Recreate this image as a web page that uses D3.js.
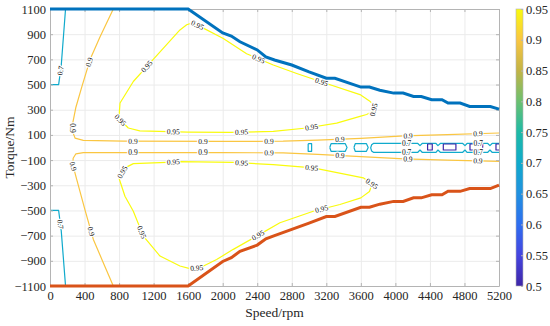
<!DOCTYPE html>
<html>
<head>
<meta charset="utf-8">
<script src="https://cdn.jsdelivr.net/npm/d3@7/dist/d3.min.js"></script>
<style>
body{margin:0;background:#fff;}
text{font-family:"Liberation Serif","Times New Roman",serif;}
</style>
</head>
<body>
<div id="canvas"></div>
<script>
// tick labels
var speedTicks = [0,400,800,1200,1600,2000,2400,2800,3200,3600,4000,4400,4800,5200];
var torqueTicks = [-1100,-900,-700,-500,-300,-100,100,300,500,700,900,1100];
var effTicks = [0.5,0.55,0.6,0.65,0.7,0.75,0.8,0.85,0.9,0.95];
// colour map (parula-like), one colour per colorbar tick
var effColors = ["#3e26a8","#4545e0","#2e6ef0","#2191e0","#10aacc","#1fbaa6","#6cc070","#c3b446","#fac642","#f9fb0e"];

// max / min torque envelope
var envSpeed = [0,1600,2000,2100,2200,2400,2500,2600,2800,3000,3200,3300,3600,3700,3820,3980,4090,4210,4300,4420,4540,4610,4750,4860,5100,5200];
var envTmax  = [1100,1100,910,885,840,775,720,695,655,600,550,550,480,480,455,432,432,405,405,380,380,353,353,326,326,305];
var envTmin  = [-1100,-1100,-905,-875,-825,-775,-725,-700,-650,-600,-548,-548,-475,-475,-450,-428,-428,-400,-400,-375,-375,-348,-348,-326,-326,-298];

// contour lines [speed, torque]
var eff70TopLeft = [[0,500],[100,500],[130,650],[180,1100]];
var eff70BotLeft = [[0,-500],[100,-500],[130,-660],[180,-1100]];
var eff70Band = [[5200,32],[5120,32],[5095,15],[5070,32],[4830,32],[4806,15],[4780,32],[4520,32],[4493,15],[4470,32],[4310,32],[4285,15],[4260,32],[3745,32],[3725,22],[3714,-3],
  [3725,-28],[3745,-38],[4260,-38],[4285,-20],[4310,-38],[4470,-38],[4493,-20],[4520,-38],[4780,-38],[4806,-20],[4830,-38],[5070,-38],[5095,-20],[5120,-38],[5200,-38]];
var eff70Small = [[2990,30],[3030,30],[3030,-30],[2990,-30],[2990,30]];
var eff70Hex1 = [[3240,0],[3255,30],[3420,30],[3440,0],[3420,-30],[3255,-30],[3240,0]];
var eff70Hex2 = [[3520,0],[3535,30],[3665,30],[3685,0],[3665,-30],[3535,-30],[3520,0]];
var eff50Box1 = [[4373,28],[4427,28],[4427,-20],[4373,-20],[4373,28]];
var eff50Box2 = [[4555,28],[4701,28],[4701,-20],[4555,-20],[4555,28]];
var eff50Box3 = [[4864,28],[5011,28],[5011,-20],[4864,-20],[4864,28]];
var eff50Box4 = [[5200,28],[5165,28],[5165,-20],[5200,-20]];
var eff90Top = [[733,1100],[580,880],[465,700],[370,485],[300,320],[265,200],[265,120],[290,75],[386,57],[850,50],[2000,48],[2700,50],[3100,58],[3600,72],[4100,92],[4600,103],[5200,115]];
var eff90Bot = [[733,-1100],[617,-915],[502,-730],[405,-495],[310,-255],[265,-140],[268,-85],[300,-50],[386,-40],[850,-40],[2000,-40],[2700,-43],[3100,-55],[3600,-72],[4100,-90],[4600,-100],[5200,-110]];
var eff95Top = [[800,250],[811,353],[965,524],[1120,643],[1505,934],[1583,975],[1650,990],[1737,962],[2007,865],[2277,745],[2586,655],[2857,588],[3165,516],[3590,420],[3700,370],[3760,330],[3745,290],[3667,262],[3590,247],[3320,194],[2973,155],[2586,128],[2084,120],[1600,122],[1040,132],[907,155],[811,220],[800,250]];
var eff95Bot = [[800,-245],[811,-268],[868,-387],[965,-506],[1081,-704],[1274,-862],[1505,-941],[1620,-962],[1737,-955],[1930,-889],[2123,-809],[2393,-704],[2663,-598],[3049,-506],[3358,-453],[3600,-400],[3700,-350],[3730,-290],[3628,-241],[3049,-162],[2586,-136],[2123,-118],[1505,-112],[1351,-118],[965,-128],[868,-162],[811,-229],[800,-245]];

// inline labels [speed, torque]
var lab70 = [[127,610],[127,-610]];
var lab70Band = [[4130,32],[4130,-38],[4960,32],[4960,-38]];
var lab90Top = [[494,670],[265,155],[961,50],[1772,48],[2536,50],[3358,64],[4146,93],[4956,110]];
var lab90Bot = [[483,-665],[265,-150],[961,-40],[1772,-40],[2536,-42],[3358,-62],[4146,-90],[4956,-106]];
var lab95Top = [[1120,643],[811,215],[1428,122],[2219,120],[3030,160],[3752,300],[1699,960],[2412,700],[3146,521]];
var lab95Bot = [[1138,-651],[849,-200],[1428,-113],[2219,-120],[3030,-160],[3725,-290],[1699,-957],[2412,-700],[3146,-490]];

var W = 550, H = 326;
var m = {t:9, r:51, b:40, l:50};
var w = W - m.l - m.r, h = H - m.t - m.b;

var svg = d3.select('#canvas').append('svg')
    .attr('width', W).attr('height', H);

var x = d3.scaleLinear().domain([0,5200]).range([m.l, m.l + w]);
var y = d3.scaleLinear().domain([-1100,1100]).range([m.t + h, m.t]);
var col = d3.scaleLinear().domain(effTicks).range(effColors);

// grid
svg.append('g').attr('transform','translate(0,'+(m.t+h)+')')
    .call(d3.axisBottom(x).tickValues(speedTicks).tickSize(-h).tickFormat(''))
    .call(function(g){ g.select('.domain').remove(); g.selectAll('line').attr('stroke','#ebebeb'); });
svg.append('g').attr('transform','translate('+m.l+',0)')
    .call(d3.axisLeft(y).tickValues(torqueTicks).tickSize(-w).tickFormat(''))
    .call(function(g){ g.select('.domain').remove(); g.selectAll('line').attr('stroke','#ebebeb'); });

var plot = svg.append('g');
plot.append('clipPath').attr('id','clip').append('rect')
    .attr('x', m.l).attr('y', m.t).attr('width', w).attr('height', h);

var line = d3.line()
    .x(function(d){ return x(d[0]); })
    .y(function(d){ return y(d[1]); });

var contours = [
  {lev:0.7, pts:eff70TopLeft, labs:lab70.slice(0,1)},
  {lev:0.7, pts:eff70BotLeft, labs:lab70.slice(1)},
  {lev:0.7, pts:eff70Band, labs:lab70Band},
  {lev:0.7, pts:eff70Small, labs:[]},
  {lev:0.7, pts:eff70Hex1, labs:[]},
  {lev:0.7, pts:eff70Hex2, labs:[]},
  {lev:0.5, pts:eff50Box1, labs:[]},
  {lev:0.5, pts:eff50Box2, labs:[]},
  {lev:0.5, pts:eff50Box3, labs:[]},
  {lev:0.5, pts:eff50Box4, labs:[]},
  {lev:0.9, pts:eff90Top, labs:lab90Top},
  {lev:0.9, pts:eff90Bot, labs:lab90Bot},
  {lev:0.95, pts:eff95Top, labs:lab95Top},
  {lev:0.95, pts:eff95Bot, labs:lab95Bot}
];

var cg = plot.append('g').attr('clip-path','url(#clip)');
cg.selectAll('.contour')
    .data(contours)
    .enter().append('path')
    .attr('class','contour')
    .attr('d', function(d){ return line(d.pts); })
    .attr('fill','none')
    .attr('stroke', function(d){ return col(d.lev); })
    .attr('stroke-width', 1.2)
    .attr('stroke-linejoin','round');

// place label on nearest segment, rotated along it
function labelPos(pts, s, t){
  var px = x(s), py = y(t), best = null;
  for(var i=0; i<pts.length-1; i++){
    var ax = x(pts[i][0]), ay = y(pts[i][1]), bx = x(pts[i+1][0]), by = y(pts[i+1][1]);
    var dx = bx-ax, dy = by-ay, L = dx*dx+dy*dy;
    var u = L>0 ? Math.max(0, Math.min(1, ((px-ax)*dx+(py-ay)*dy)/L)) : 0;
    var qx = ax+u*dx, qy = ay+u*dy, dd = (qx-px)*(qx-px)+(qy-py)*(qy-py);
    if(!best || dd < best.dd){
      var a = Math.atan2(dy, dx)*180/Math.PI;
      if(a > 90) a -= 180;
      if(a <= -90) a += 180;
      best = {x:qx, y:qy, a:a, dd:dd};
    }
  }
  return best;
}

var labData = [];
contours.forEach(function(c){
  c.labs.forEach(function(l){
    var p = labelPos(c.pts, l[0], l[1]);
    labData.push({x:p.x, y:p.y, a:p.a, txt:String(c.lev)});
  });
});

svg.append('g').selectAll('text')
    .data(labData)
    .enter().append('text')
    .attr('transform', function(d){ return 'translate('+d.x+','+d.y+') rotate('+d.a+')'; })
    .attr('text-anchor','middle')
    .attr('dy','0.33em')
    .attr('font-size','7.5px')
    .attr('fill','#111')
    .attr('stroke','#fff').attr('stroke-width',2.5)
    .attr('paint-order','stroke')
    .text(function(d){ return d.txt; });

// axes frame and inward ticks
function styleAxis(g){
  g.select('.domain').attr('stroke','#b4b4b4');
  g.selectAll('.tick line').attr('stroke','#b4b4b4');
  g.selectAll('text').attr('fill','#262626').attr('font-size','12.5px');
}
svg.append('g').attr('transform','translate(0,'+(m.t+h)+')')
    .call(d3.axisBottom(x).tickValues(speedTicks).tickSizeInner(-3).tickSizeOuter(0).tickPadding(5).tickFormat(d3.format('d')))
    .call(styleAxis);
svg.append('g').attr('transform','translate('+m.l+',0)')
    .call(d3.axisLeft(y).tickValues(torqueTicks).tickSizeInner(-3).tickSizeOuter(0).tickPadding(4).tickFormat(d3.format('d')))
    .call(styleAxis);
svg.append('g').attr('transform','translate(0,'+m.t+')')
    .call(d3.axisTop(x).tickValues(speedTicks).tickSizeInner(-3).tickSizeOuter(0).tickFormat(''))
    .call(styleAxis);
svg.append('g').attr('transform','translate('+(m.l+w)+',0)')
    .call(d3.axisRight(y).tickValues(torqueTicks).tickSizeInner(-3).tickSizeOuter(0).tickFormat(''))
    .call(styleAxis);

// envelope lines, on top of the frame
var env = envSpeed.map(function(s,i){ return [s, envTmax[i], envTmin[i]]; });
svg.append('path')
    .attr('d', line(env.map(function(d){ return [d[0], d[1]]; })))
    .attr('fill','none').attr('stroke','#0072bd').attr('stroke-width',3);
svg.append('path')
    .attr('d', line(env.map(function(d){ return [d[0], d[2]]; })))
    .attr('fill','none').attr('stroke','#d95319').attr('stroke-width',3);

// axis titles
svg.append('text')
    .attr('x', m.l + w/2).attr('y', 317)
    .attr('text-anchor','middle').attr('font-size','13.5px').attr('fill','#262626')
    .text('Speed/rpm');
svg.append('text')
    .attr('transform','translate(14,'+(m.t + h/2)+') rotate(-90)')
    .attr('text-anchor','middle').attr('font-size','13.5px').attr('fill','#262626')
    .text('Torque/Nm');

// colorbar
var cbX = 516, cbW = 7;
var cbY = d3.scaleLinear().domain([0.5,0.95]).range([m.t + h, m.t]);
var grad = svg.append('defs').append('linearGradient')
    .attr('id','cbgrad').attr('x1','0').attr('y1','1').attr('x2','0').attr('y2','0');
grad.selectAll('stop')
    .data(effTicks)
    .enter().append('stop')
    .attr('offset', function(d){ return (d-0.5)/0.45; })
    .attr('stop-color', function(d){ return col(d); });
svg.append('rect')
    .attr('x', cbX).attr('y', m.t).attr('width', cbW).attr('height', h)
    .attr('fill','url(#cbgrad)').attr('stroke','#b4b4b4').attr('stroke-width',0.6);
svg.append('g').attr('transform','translate('+(cbX+cbW)+',0)')
    .call(d3.axisRight(cbY).tickValues(effTicks).tickSizeInner(-2).tickSizeOuter(0).tickPadding(3)
        .tickFormat(function(d){ return String(+d.toFixed(2)); }))
    .call(styleAxis)
    .call(function(g){ g.select('.domain').remove(); });
</script>
</body>
</html>
